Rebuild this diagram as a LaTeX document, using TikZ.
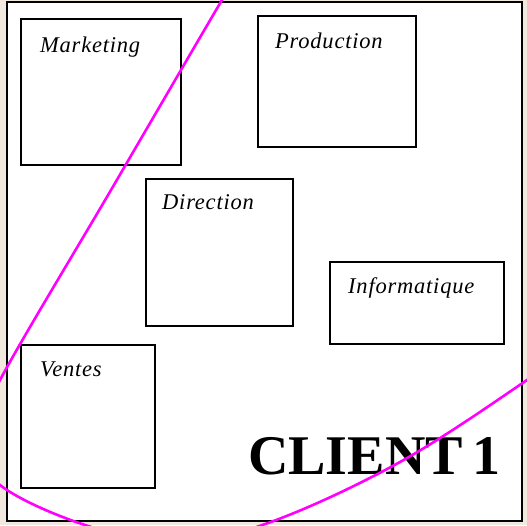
\documentclass[tikz,border=0pt]{standalone}
\usepackage{fontspec}
\setmainfont{Liberation Serif}
\newfontfamily\lblfont[LetterSpace=3.5]{Liberation Serif}
\usepackage{tikz}
\usetikzlibrary{positioning,calc}

\definecolor{paper}{RGB}{241,232,222}
\definecolor{zone}{RGB}{255,0,255}

\begin{document}
\begin{tikzpicture}[x=1pt, y=-1pt,
                      box/.style={rectangle, draw, line width=2.2pt, minimum size=0pt,
                                  inner sep=0pt, anchor=north west},
                      lbl/.style={inner sep=0pt, anchor=base west,
                                  font=\lblfont\fontsize{22.5}{24}\selectfont\itshape}]
        \useasboundingbox (0,0) rectangle (527,525);
        \fill[paper] (0,0) rectangle (527,525);
        \draw[line width=2.2pt, fill=white] (7,2) rectangle (522,521);
        % services
        \node (mkt)[box, minimum width=160pt, minimum height=146pt] at (20,18) {};
        \node (prod)[box, minimum width=158pt, minimum height=131pt] at (257,15) {};
        \node (dir)[box, minimum width=147pt, minimum height=147pt] at (145,178) {};
        \node (info)[box, minimum width=174pt, minimum height=82pt] at (329,261) {};
        \node (vent)[box, minimum width=134pt, minimum height=143pt] at (20,344) {};
        \node (mktl)[lbl] at ($(mkt.north west)+(20,34)$) {Marketing};
        \node (prodl)[lbl] at ($(prod.north west)+(18,33)$) {Production};
        \node (dirl)[lbl] at ($(dir.north west)+(17,31)$) {Direction};
        \node (infol)[lbl] at ($(info.north west)+(19,32)$) {Informatique};
        \node (ventl)[lbl] at ($(vent.north west)+(20,32)$) {Ventes};
        \node (client)[inner sep=0pt, anchor=base west,
                       font=\fontsize{56}{58}\selectfont\bfseries] at (248,474) {CLIENT\,1};
        % zone du client
        \begin{scope}
          \clip (0,0) rectangle (527,525);
          \draw[zone, line width=2.6pt] plot[smooth, tension=0.6] coordinates
            {(250,-45) (222,0) (111,190) (0,380) (-22,440) (0,485) (85,525)
             (175,542) (268,523) (400,462) (527,380) (565,350)};
        \end{scope}
      \end{tikzpicture}
\end{document}
